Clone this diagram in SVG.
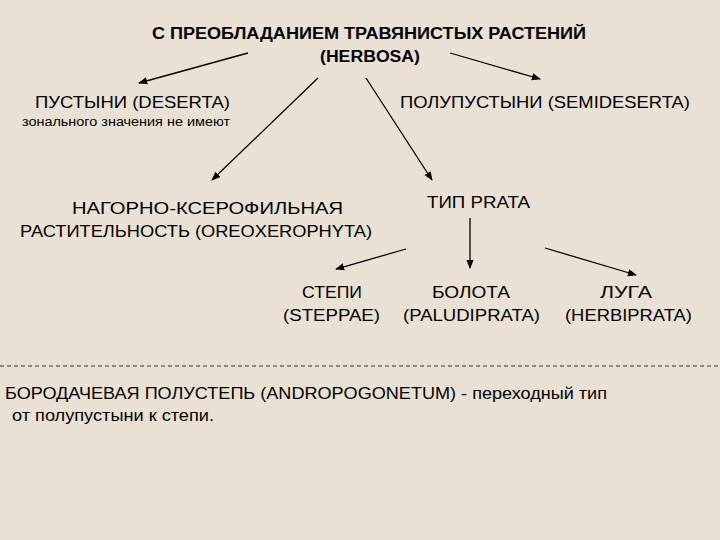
<svg xmlns="http://www.w3.org/2000/svg" width="720" height="540" viewBox="0 0 720 540">
<style>
text{font-family:"Liberation Sans",Arial,sans-serif;fill:#000;font-size:17px}
.c{text-anchor:middle}
.b{font-weight:bold;font-size:16px}
.s{font-size:12px}
.a{stroke:#000;stroke-width:1.3;fill:none;marker-end:url(#ah)}
</style>
<defs><marker id="ah" viewBox="0 0 10 10" refX="9" refY="5" markerWidth="7" markerHeight="7" orient="auto"><path d="M0,1 L10,5 L0,9 z" fill="#000"/></marker></defs>
<rect width="720" height="540" fill="#e9e2d4"/>
<g id="connectors">
<line class="a" x1="248" y1="53" x2="139" y2="83"/>
<line class="a" x1="450" y1="53" x2="540" y2="79"/>
<line class="a" x1="318" y1="78" x2="212" y2="180"/>
<line class="a" x1="366" y1="78" x2="432" y2="180"/>
<line class="a" x1="406" y1="249" x2="336" y2="269"/>
<line class="a" x1="470" y1="218" x2="470" y2="268"/>
<line class="a" x1="545" y1="248" x2="636" y2="275"/>
<line x1="0" y1="366" x2="720" y2="366" stroke="#333" stroke-width="1" stroke-dasharray="4,3"/>
</g>
<g id="herbosa"><text class="b" x="152" y="39" textLength="434" lengthAdjust="spacingAndGlyphs">С ПРЕОБЛАДАНИЕМ ТРАВЯНИСТЫХ РАСТЕНИЙ</text><text class="b" x="320" y="62" textLength="100" lengthAdjust="spacingAndGlyphs">(HERBOSA)</text></g>
<g id="deserta"><text x="35" y="108" textLength="195" lengthAdjust="spacingAndGlyphs">ПУСТЫНИ (DESERTA)</text><text class="s" x="22" y="126" textLength="208" lengthAdjust="spacingAndGlyphs">зонального значения не имеют</text></g>
<g id="semideserta"><text x="400" y="108" textLength="290" lengthAdjust="spacingAndGlyphs">ПОЛУПУСТЫНИ (SEMIDESERTA)</text></g>
<g id="oreo"><text x="72" y="214" textLength="271" lengthAdjust="spacingAndGlyphs">НАГОРНО-КСЕРОФИЛЬНАЯ</text><text x="20" y="237" textLength="352" lengthAdjust="spacingAndGlyphs">РАСТИТЕЛЬНОСТЬ (OREOXEROPHYTA)</text></g>
<g id="prata"><text x="427" y="208" textLength="103" lengthAdjust="spacingAndGlyphs">ТИП PRATA</text></g>
<g id="steppae"><text x="302" y="298" textLength="60" lengthAdjust="spacingAndGlyphs">СТЕПИ</text><text x="283" y="321" textLength="97" lengthAdjust="spacingAndGlyphs">(STEPPAE)</text></g>
<g id="paludiprata"><text x="432" y="298" textLength="78" lengthAdjust="spacingAndGlyphs">БОЛОТА</text><text x="403" y="321" textLength="137" lengthAdjust="spacingAndGlyphs">(PALUDIPRATA)</text></g>
<g id="herbiprata"><text x="600" y="298" textLength="52" lengthAdjust="spacingAndGlyphs">ЛУГА</text><text x="565" y="321" textLength="127" lengthAdjust="spacingAndGlyphs">(HERBIPRATA)</text></g>
<g id="note"><text x="5" y="399" textLength="602" lengthAdjust="spacingAndGlyphs">БОРОДАЧЕВАЯ ПОЛУСТЕПЬ (ANDROPOGONETUM) - переходный тип</text><text x="12" y="421" textLength="202" lengthAdjust="spacingAndGlyphs" style="font-size:16px">от полупустыни к степи.</text></g>
</svg>
